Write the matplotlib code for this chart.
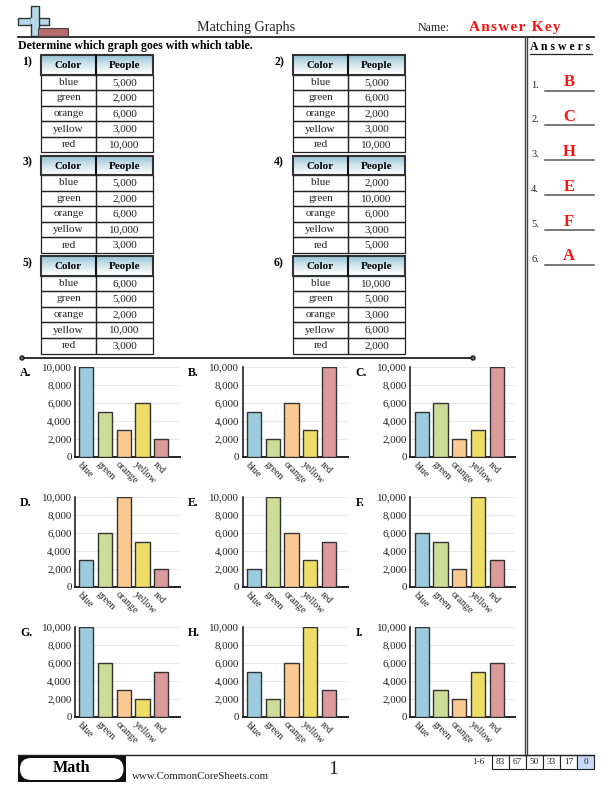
import numpy as np
import matplotlib
matplotlib.use('Agg')
import matplotlib.pyplot as plt
from matplotlib.patches import Rectangle, FancyBboxPatch, Circle
from matplotlib.transforms import ScaledTranslation

plt.rcParams['font.family'] = ['Liberation Serif', 'DejaVu Serif']

colors = ['blue', 'green', 'orange', 'yellow', 'red']
bar_colors = ['#9ccbdd', '#cddc96', '#fdc992', '#eedd66', '#dd9a9c']

table_1 = [5000, 2000, 6000, 3000, 10000]
table_2 = [5000, 6000, 2000, 3000, 10000]
table_3 = [5000, 2000, 6000, 10000, 3000]
table_4 = [2000, 10000, 6000, 3000, 5000]
table_5 = [6000, 5000, 2000, 10000, 3000]
table_6 = [10000, 5000, 3000, 6000, 2000]
tables = [table_1, table_2, table_3, table_4, table_5, table_6]

graph_a = [10000, 5000, 3000, 6000, 2000]
graph_b = [5000, 2000, 6000, 3000, 10000]
graph_c = [5000, 6000, 2000, 3000, 10000]
graph_d = [3000, 6000, 10000, 5000, 2000]
graph_e = [2000, 10000, 6000, 3000, 5000]
graph_f = [6000, 5000, 2000, 10000, 3000]
graph_g = [10000, 6000, 3000, 2000, 5000]
graph_h = [5000, 2000, 6000, 10000, 3000]
graph_i = [10000, 3000, 2000, 5000, 6000]
graphs = [graph_a, graph_b, graph_c, graph_d, graph_e, graph_f, graph_g, graph_h, graph_i]
graph_letters = ['A.', 'B.', 'C.', 'D.', 'E.', 'F.', 'G.', 'H.', 'I.']

answers = ['B', 'C', 'H', 'E', 'F', 'A']
scores = ['83', '67', '50', '33', '17', '0']

W, H = 612, 792
fig = plt.figure(figsize=(W / 100, H / 100), dpi=100)
page = fig.add_axes([0, 0, 1, 1])
page.set_xlim(0, W)
page.set_ylim(H, 0)
page.axis('off')

# header gradient for the table title cells
grad = np.linspace(0, 1, 32).reshape(-1, 1)
grad_cmap = matplotlib.colors.LinearSegmentedColormap.from_list('hdr', ['#8fbfd4', '#cfe4ec', '#ffffff'])


def draw_table(x, y, n, values):
    x1, x2, x3 = x, x + 55, x + 112
    head = 19.5
    row = 15.6
    page.imshow(grad, extent=(x1, x3, y + head, y), cmap=grad_cmap, aspect='auto', zorder=1)
    page.add_patch(Rectangle((x1, y), x3 - x1, head, fill=False, ec='#333333', lw=1.5, zorder=3))
    page.plot([x2, x2], [y, y + head], color='#111111', lw=1.5, zorder=3)
    page.text((x1 + x2) / 2, y + head / 2 + 1, 'Color', ha='center', va='center', fontsize=8, fontweight='bold', zorder=4)
    page.text((x2 + x3) / 2, y + head / 2 + 1, 'People', ha='center', va='center', fontsize=8, fontweight='bold', zorder=4)
    for i, (c, v) in enumerate(zip(colors, values)):
        top = y + head + i * row
        page.add_patch(Rectangle((x1, top), x2 - x1, row, fill=False, ec='#222222', lw=0.9))
        page.add_patch(Rectangle((x2, top), x3 - x2, row, fill=False, ec='#222222', lw=0.9))
        page.text((x1 + x2) / 2, top + row / 2, c, ha='center', va='center', fontsize=8, color='#222222')
        page.text((x2 + x3) / 2, top + row / 2, f'{v:,}', ha='center', va='center', fontsize=8, color='#222222')
    page.text(x - 9, y + 7, f'{n})', ha='right', va='center', fontsize=8.5, fontweight='bold')


def draw_graph(x, y, values, letter):
    ax = fig.add_axes([x / W, 1 - (y + 90) / H, 105 / W, 90 / H])
    ax.bar(range(5), values, width=0.76, color=bar_colors, edgecolor='#333333', linewidth=1.0, zorder=3)
    ax.set_xlim(-0.6, 5.0)
    ax.set_ylim(0, 10000)
    ax.set_yticks([0, 2000, 4000, 6000, 8000, 10000])
    ax.set_yticklabels(['0', '2,000', '4,000', '6,000', '8,000', '10,000'], fontsize=7.9, color='#222222')
    ax.set_xticks(range(5))
    ax.set_xticklabels(colors, fontsize=7.3, rotation=-45, ha='left', va='center', rotation_mode='anchor', color='#222222')
    ax.tick_params(length=0, pad=2.5)
    ax.tick_params(axis='x', pad=4.5)
    # labels start left of the bar centre, tick_params resets transforms so do this after
    offset = ScaledTranslation(-7 / 100, 0 / 100, fig.dpi_scale_trans)
    for lab in ax.get_xticklabels():
        lab.set_transform(lab.get_transform() + offset)
    ax.grid(axis='y', color='#e8e8e8', lw=0.7, zorder=0)
    ax.set_axisbelow(True)
    ax.spines['top'].set_visible(False)
    ax.spines['right'].set_visible(False)
    ax.spines['left'].set_linewidth(1.2)
    ax.spines['left'].set_color('#222222')
    ax.spines['bottom'].set_linewidth(1.4)
    ax.spines['bottom'].set_color('#222222')
    ax.patch.set_alpha(0)
    page.text(x - 55, y + 5.5, letter, ha='left', va='center', fontsize=8.5, fontweight='bold')


# logo
page.add_patch(Rectangle((18, 17.5), 31, 7, fc='#b5d9ea', ec='#333333', lw=1.0, zorder=1))
page.add_patch(Rectangle((30.5, 5.5), 8, 30, fc='#b5d9ea', ec='#333333', lw=1.0, zorder=1))
page.add_patch(Rectangle((31.2, 18.2), 6.6, 5.6, fc='#b5d9ea', ec='none', zorder=2))
page.add_patch(Rectangle((38, 28), 29.5, 7.5, fc='#b86a6c', ec='#444444', lw=0.8, zorder=3))

# header
page.text(246, 27.5, 'Matching Graphs', ha='center', va='center', fontsize=10.1, color='#222222')
page.text(433.5, 28, 'Name:', ha='center', va='center', fontsize=8.6, color='#222222')
page.text(514.5, 27, 'A\u200an\u200as\u200aw\u200ae\u200ar\u200a \u200aK\u200ae\u200ay', ha='center', va='center',
          fontsize=11, fontweight='bold', color='#ff1111')
page.plot([18, 594], [36.5, 36.5], color='#222222', lw=1.3)
page.text(18, 46.5, 'Determine which graph goes with which table.', ha='left', va='center', fontsize=8.6, fontweight='bold')

# right column
page.plot([524.5, 524.5], [37, 755], color='#444444', lw=1.0)
page.plot([527, 527], [37, 755], color='#444444', lw=1.0)
page.text(530, 47.5, 'A n s w e r s', ha='left', va='center', fontsize=8.5, fontweight='bold')
page.plot([530, 592], [53.5, 53.5], color='#222222', lw=0.9)
for i, a in enumerate(answers):
    y = 90.5 + i * 34.9
    page.text(539, y - 5.5, f'{i + 1}.', ha='right', va='center', fontsize=7.5, color='#222222')
    page.plot([545, 594], [y, y], color='#555555', lw=1.1)
    page.text(569, y - 8.5, a, ha='center', va='center', fontsize=12, fontweight='bold', color='#ff1111')

# tables
table_x = [41, 293]
table_y = [55, 155.5, 256]
for i, values in enumerate(tables):
    draw_table(table_x[i % 2], table_y[i // 2], i + 1, values)

# divider
page.plot([22, 473], [358, 358], color='#222222', lw=1.3)
page.add_patch(Circle((22, 358), 2, fc='#666666', ec='#222222', lw=1.0, zorder=3))
page.add_patch(Circle((473, 358), 2, fc='#666666', ec='#222222', lw=1.0, zorder=3))

# graphs
graph_x = [75, 242.8, 410.5]
graph_y = [367, 497, 627]
for i, values in enumerate(graphs):
    draw_graph(graph_x[i % 3], graph_y[i // 3], values, graph_letters[i])

# footer
page.plot([18, 594], [755, 755], color='#222222', lw=1.0)
page.add_patch(Rectangle((18, 755), 108, 27, fc='#111111', ec='none'))
page.add_patch(FancyBboxPatch((20, 758), 103.5, 22, boxstyle='round,pad=0,rounding_size=11', fc='white', ec='none', zorder=2))
page.text(72, 768.5, 'Math', ha='center', va='center', fontsize=11.6, fontweight='bold', zorder=3)
page.text(132, 776.5, 'www.CommonCoreSheets.com', ha='left', va='center', fontsize=7.8, color='#222222')
page.text(333, 769.5, '1', ha='center', va='center', fontsize=14, color='#222222')
page.text(478, 762.5, '1-6', ha='center', va='center', fontsize=6.6, color='#222222')
for i, s in enumerate(scores):
    x0 = 492 + i * 17
    fc = '#c8daf5' if s == '0' else 'white'
    page.add_patch(Rectangle((x0, 755), 17, 14, fc=fc, ec='#222222', lw=0.8))
    page.text(x0 + 8.5, 762.5, s, ha='center', va='center', fontsize=6.6, color='#222222')

page.set_xlim(0, W)
page.set_ylim(H, 0)
fig.savefig('out.png', dpi=100)
